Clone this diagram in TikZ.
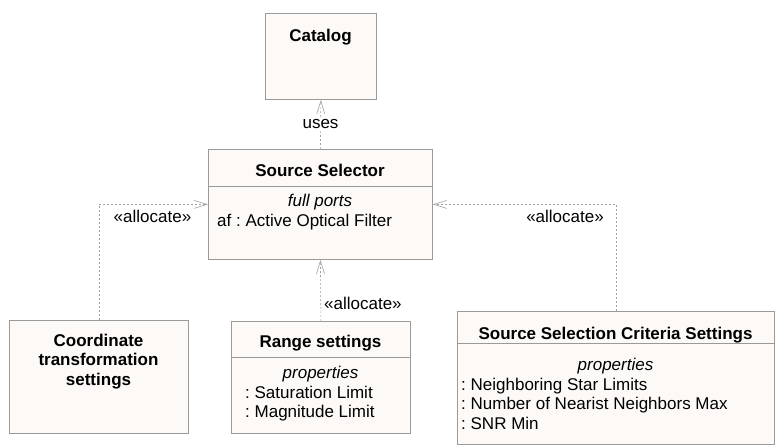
\documentclass[tikz,border=0pt]{standalone}
\usepackage{fontspec}
\setmainfont{Liberation Sans}
\usetikzlibrary{arrows.meta}
\definecolor{boxfill}{HTML}{FDF9F6}
\definecolor{boxline}{HTML}{9A9A9A}
\definecolor{linkgray}{HTML}{A0A0A0}
\frenchspacing
\begin{document}
\begin{tikzpicture}[x=1pt,y=-1pt,
  every node/.style={font=\fontsize{17}{19.5}\selectfont, inner sep=0pt},
  umlbox/.style={draw=boxline, fill=boxfill, line width=0.8pt, rectangle, anchor=north west},
  divider/.style={draw=boxline, line width=0.8pt},
  title/.style={font=\fontsize{17}{19.5}\selectfont\bfseries, anchor=base},
  compart/.style={font=\fontsize{17}{19.5}\selectfont\itshape, anchor=base},
  item/.style={anchor=base west},
  dep/.style={draw=linkgray, line width=0.6pt, dash pattern=on 2pt off 2pt,
    -{Straight Barb[length=13pt,width=8pt,line width=0.6pt]}},
  lbl/.style={anchor=base}]
\useasboundingbox (0,0) rectangle (775,445);

% blocks
\node[umlbox, minimum width=111pt, minimum height=86pt] (catalog) at (265,13) {};
\node[umlbox, minimum width=224pt, minimum height=110pt] (sel) at (208,149) {};
\node[umlbox, minimum width=179pt, minimum height=113pt] (coord) at (9,320) {};
\node[umlbox, minimum width=179pt, minimum height=112pt] (range) at (231,321) {};
\node[umlbox, minimum width=317pt, minimum height=133pt] (ssc) at (457,311) {};

% compartment dividers
\draw[divider] (sel.west |- 0,186) -- (sel.east |- 0,186);
\draw[divider] (range.west |- 0,357) -- (range.east |- 0,357);
\draw[divider] (ssc.west |- 0,343) -- (ssc.east |- 0,343);

% block texts
\node[title] (catalogT) at (320.5,41) {Catalog};

\node[title] (selT) at (320,176) {Source Selector};
\node[compart] (selC) at (320,206.7) {full ports};
\node[item] (selP) at (217,226.2) {af : Active Optical Filter};

\node[title, align=center, anchor=north] (coordT) at (98.5,333.5)
  {Coordinate\\transformation\\settings};

\node[title] (rangeT) at (320.5,347.3) {Range settings};
\node[compart] (rangeC) at (320.5,378.3) {properties};
\node[item] (rangeP1) at (245,398.3) {: Saturation Limit};
\node[item] (rangeP2) at (245,417.7) {: Magnitude Limit};

\node[title] (sscT) at (615.5,339) {Source Selection Criteria Settings};
\node[compart] (sscC) at (615.5,370) {properties};
\node[item] (sscP1) at (461,390) {: Neighboring Star Limits};
\node[item] (sscP2) at (461,409.5) {: Number of Nearist Neighbors Max};
\node[item] (sscP3) at (461,429) {: SNR Min};

% dependencies
\draw[dep] (sel.north) -- (catalog.south);
\node[lbl, fill=white, inner sep=1.5pt] (usesL) at (320.5,128.3) {uses};

\draw[dep] (coord.north) |- (sel.west);
\node[lbl] (allocL) at (152.5,222.7) {«allocate»};

\draw[dep] (range.north) -- (sel.south);
\node[lbl, anchor=base west] (allocM) at (324,309.3) {«allocate»};

\draw[dep] (ssc.north) |- (sel.east);
\node[lbl] (allocR) at (565,222.7) {«allocate»};
\end{tikzpicture}
\end{document}
